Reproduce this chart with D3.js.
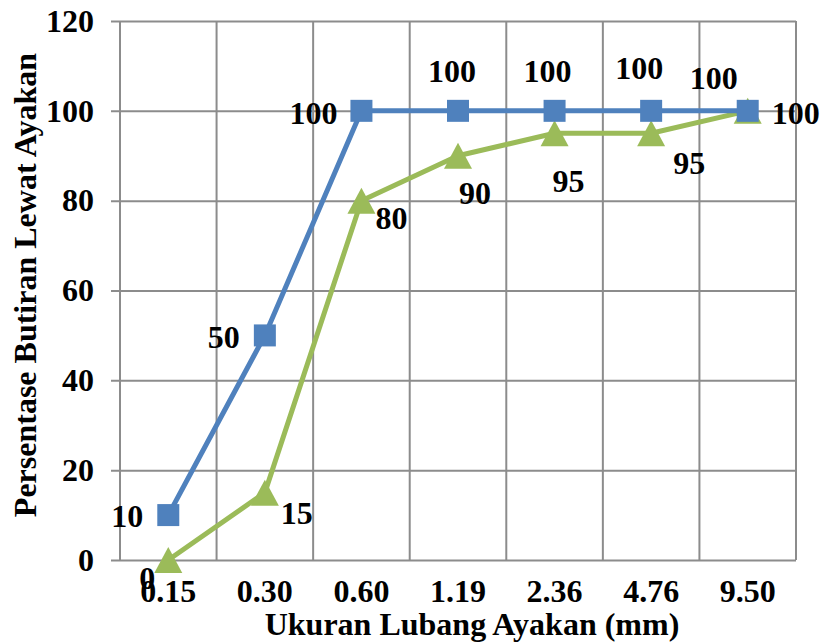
<!DOCTYPE html>
<html>
<head>
<meta charset="utf-8">
<script src="https://cdn.jsdelivr.net/npm/d3@7"></script>
<style>
  html, body { margin: 0; padding: 0; background: #fff; }
  svg { display: block; }
</style>
</head>
<body>
<svg id="chart" width="820" height="644"></svg>
<script>
// Sieve sizes (mm) and cumulative percent passing for the two gradings
const sieveSizes = ["0.15", "0.30", "0.60", "1.19", "2.36", "4.76", "9.50"];
const passingBlue = [10, 50, 100, 100, 100, 100, 100];
const passingGreen = [0, 15, 80, 90, 95, 95, 100];
const yTicks = [0, 20, 40, 60, 80, 100, 120];
const xTitle = "Ukuran Lubang Ayakan (mm)";
const yTitle = "Persentase Butiran Lewat Ayakan";

// label placement (pixel offsets from each marker)
const blueLabelOffsets = [[-41, 1], [-41, 2], [-48, 2], [-6, -40], [-7, -40], [-12, -43], [-34, -33]];
const greenLabelOffsets = [[-21, 18], [32, 20], [30, 17], [17, 37], [14, 48], [38, 30], [48, 2]];

const svg = d3.select("#chart");
const plotLeft = 120, plotRight = 796, plotTop = 21, plotBottom = 560;
const gridColor = "#8c8c8c";
const fontSize = 32;

function serif(sel, size) {
  return sel.style("font-family", "'Liberation Serif', 'Times New Roman', serif")
    .style("font-weight", "bold").style("font-size", size + "px").style("fill", "#000");
}

const x = d3.scaleBand().domain(sieveSizes).range([plotLeft, plotRight]).padding(0);
const y = d3.scaleLinear().domain([0, 120]).range([plotBottom, plotTop]);

// horizontal grid + y labels
const yAxis = d3.axisLeft(y).tickValues(yTicks).tickSize(-(plotRight - plotLeft + 9)).tickPadding(17);
const gy = svg.append("g").attr("transform", `translate(${plotLeft - 9},0)`).call(yAxis);
gy.select(".domain").remove();
gy.selectAll(".tick line").attr("stroke", gridColor).attr("stroke-width", 2);
serif(gy.selectAll(".tick text"), fontSize);

// vertical grid at category boundaries
const bounds = sieveSizes.map(d => x(d)).concat([x.range()[1]]);
svg.append("g").selectAll("line").data(bounds).join("line")
  .attr("x1", d => d).attr("x2", d => d)
  .attr("y1", y(120)).attr("y2", y(0))
  .attr("stroke", gridColor).attr("stroke-width", 2);

// x labels
const xAxis = d3.axisBottom(x).tickSize(0).tickPadding(0);
const gx = svg.append("g").attr("transform", `translate(0,${plotBottom})`).call(xAxis);
gx.select(".domain").remove();
serif(gx.selectAll(".tick text").attr("y", 42).attr("dy", null), fontSize);

// axis titles
serif(svg.append("text").attr("x", 472).attr("y", 635).attr("text-anchor", "middle"), fontSize).text(xTitle);
serif(svg.append("text").attr("transform", "translate(36,285) rotate(-90)").attr("text-anchor", "middle"), fontSize).text(yTitle);

const cx = d => x(d) + x.bandwidth() / 2;
const line = d3.line().x(d => cx(d[0])).y(d => y(d[1]));

function drawSeries(values, color, marker) {
  const pts = sieveSizes.map((s, i) => [s, values[i]]);
  const g = svg.append("g");
  g.append("path").datum(pts).attr("d", line)
    .attr("fill", "none").attr("stroke", color).attr("stroke-width", 5).attr("stroke-linejoin", "round");
  g.selectAll("path.m").data(pts).join("path").attr("class", "m")
    .attr("transform", d => `translate(${cx(d[0])},${y(d[1])})`)
    .attr("d", marker).attr("fill", color);
}

function drawLabels(values, offsets) {
  const t = svg.append("g").selectAll("text").data(sieveSizes.map((s, i) => [s, values[i], offsets[i]])).join("text")
    .attr("x", d => cx(d[0]) + d[2][0]).attr("y", d => y(d[1]) + d[2][1])
    .attr("text-anchor", "middle").attr("dominant-baseline", "central");
  serif(t, fontSize).text(d => d[1]);
}

const trianglePath = "M0,-13L14,13L-14,13Z";
const squarePath = "M-11,-11H11V11H-11Z";

drawSeries(passingGreen, "#9BBB59", trianglePath);
drawSeries(passingBlue, "#4F81BD", squarePath);
drawLabels(passingBlue, blueLabelOffsets);
drawLabels(passingGreen, greenLabelOffsets);
</script>
</body>
</html>
